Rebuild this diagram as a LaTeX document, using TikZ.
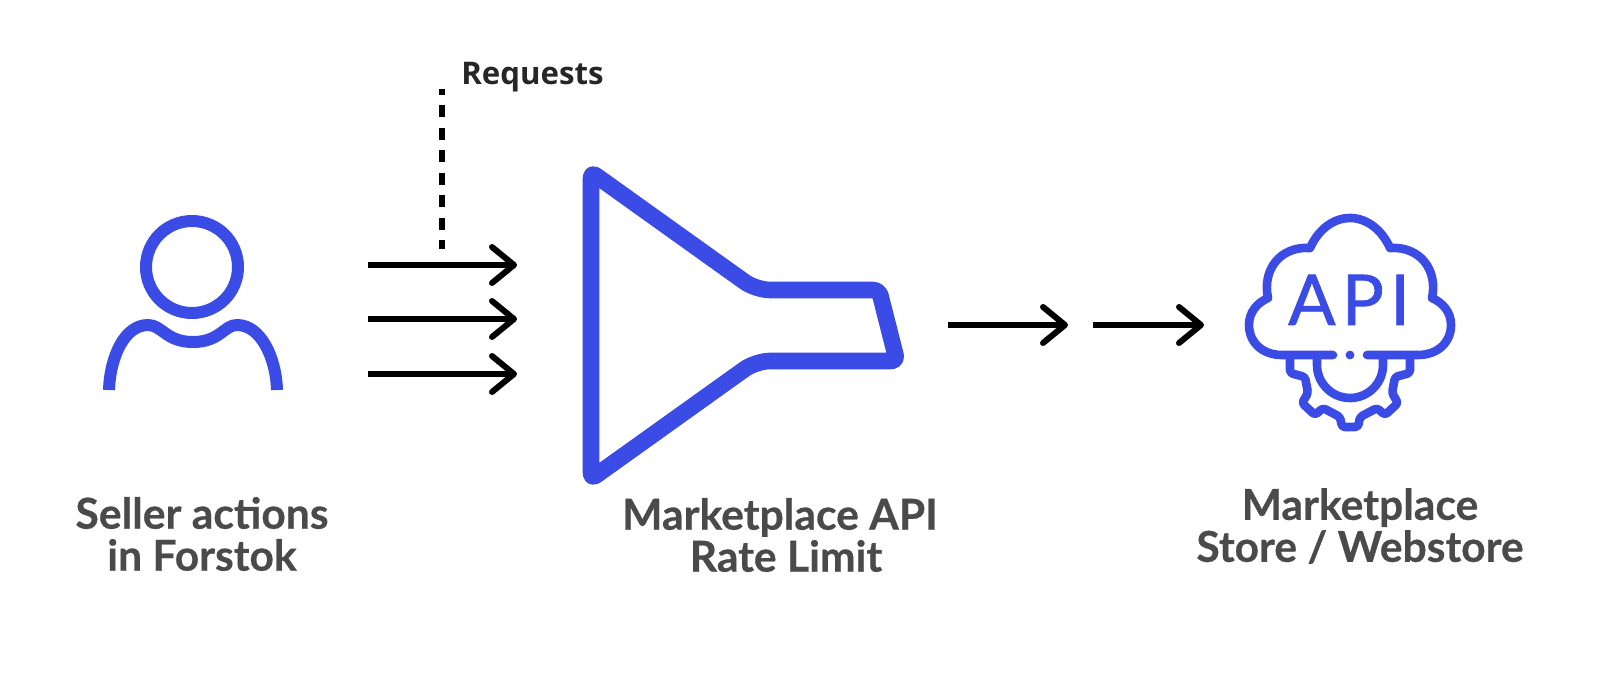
\documentclass[tikz,border=0pt]{standalone}
\usepackage{fontspec}
\setmainfont{Lato}[BoldFeatures={FakeBold=0.5}]
\newfontfamily\reqfont{Open Sans}
\newfontfamily\apifont[LetterSpace=9,FakeBold=1.2]{Lato}
\usetikzlibrary{arrows.meta}
\definecolor{iconblue}{HTML}{3A4BE6}
\definecolor{labelgray}{HTML}{4A4A4A}
\begin{document}
\begin{tikzpicture}[x=0.5pt,y=-0.5pt,>={Straight Barb[length=11pt,width=18pt,line width=3pt,round]},
        flow arrow/.style={->,line width=3.3pt,black},
        icon line/.style={draw=iconblue,line width=6pt,fill=none},
        thin icon/.style={draw=iconblue,line width=4.3pt,line cap=round,line join=round,fill=none},
        main label/.style={font=\fontsize{21.3}{21}\selectfont\bfseries,text=labelgray,align=center,inner sep=0pt}]
        \useasboundingbox (0,0) rectangle (1600,678);
        % person
        \node[circle,icon line,minimum size=92*0.5pt,inner sep=0pt] (head) at (192,267) {};
        \coordinate (body l) at (109,390);
        \coordinate (body r) at (277,390);
        \draw[icon line] (body l) .. controls (110,358) and (124,325) .. (148,325)
        .. controls (162,325) and (166,342) .. (193,342)
        .. controls (220,342) and (224,325) .. (237,325)
        .. controls (261,325) and (276,358) .. (body r);
        % requests
        \coordinate (a1) at (368,265);
        \coordinate (b1) at (517,265);
        \coordinate (a2) at (368,319);
        \coordinate (b2) at (517,319);
        \coordinate (a3) at (368,374);
        \coordinate (b3) at (517,374);
        \draw[flow arrow] (a1) -- (b1);
        \draw[flow arrow] (a2) -- (b2);
        \draw[flow arrow] (a3) -- (b3);
        \coordinate (tick top) at (442,89);
        \coordinate (tick end) at (442,249);
        \draw[line width=3.3pt,dash pattern=on 6pt off 5.25pt,dash phase=3pt] (tick top) -- (tick end);
        \node[anchor=base west,inner sep=0pt,font=\reqfont\fontsize{15.6}{16}\selectfont\bfseries,text=black!85] (req) at (461,85) {Requests};
        % funnel
        \draw[iconblue,line width=8.3pt,line join=round,rounded corners=3pt]
        (591,172) [rounded corners=7pt] -- (756,290) [rounded corners=3pt] -- (879,290) -- (897,361) [rounded corners=7pt] -- (756,361) [rounded corners=3pt] -- (591,479) -- cycle;
        % out arrows
        \coordinate (a4) at (948,325);
        \coordinate (b4) at (1068,325);
        \coordinate (a5) at (1093,325);
        \coordinate (b5) at (1204,325);
        \draw[flow arrow] (a4) -- (b4);
        \draw[flow arrow] (a5) -- (b5);
        % cloud
        \draw[thin icon] (1333,355) -- (1282,355)
        .. controls (1262,355) and (1249,342) .. (1249,325)
        .. controls (1249,312) and (1257,303) .. (1268,298)
        .. controls (1262,270) and (1280,246) .. (1310,248)
        .. controls (1318,230) and (1333,218) .. (1350,218)
        .. controls (1367,218) and (1382,230) .. (1390,248)
        .. controls (1420,246) and (1438,270) .. (1432,298)
        .. controls (1443,303) and (1451,312) .. (1451,325)
        .. controls (1451,342) and (1438,355) .. (1418,355) -- (1367,355);
        \fill[iconblue] (1350,355) circle (2.2pt);
        \node[font=\apifont\fontsize{35}{35}\selectfont,text=iconblue,inner sep=0pt,anchor=base] (api) at (1349,325) {API};
        % gear
        \draw[thin icon,rounded corners=1.5pt] (1290,357) -- (1290,373) -- (1305,377) -- (1308,393) -- (1302,403) -- (1315,415)
        -- (1323,408) -- (1340,417) -- (1342,427) -- (1358,427) -- (1360,417) -- (1377,408) -- (1385,415)
        -- (1398,403) -- (1392,393) -- (1395,377) -- (1410,373) -- (1410,357);
        \draw[thin icon] (1317,357) -- (1317,365) arc[start angle=180,end angle=0,x radius=33,y radius=33] -- (1383,357);
        % labels
        \node[main label] (seller) at (202,534) {Seller actions\\in Forstok};
        \node[main label] (limit) at (780,535) {Marketplace API\\\hspace*{6pt}Rate Limit};
        \node[main label] (store) at (1360,526) {Marketplace\\Store / Webstore};
        \end{tikzpicture}
\end{document}
